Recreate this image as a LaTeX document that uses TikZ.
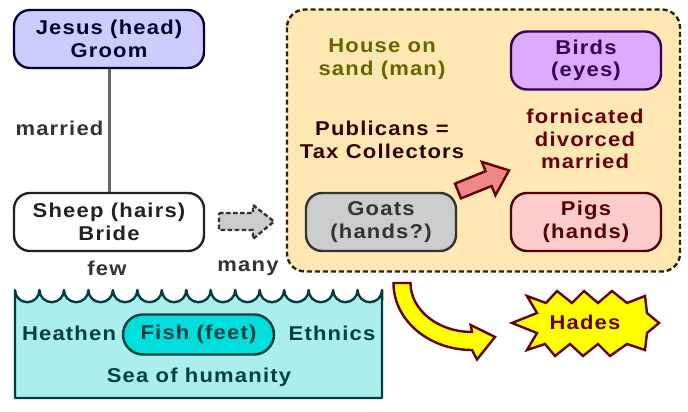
\documentclass[tikz,border=0pt]{standalone}
\usepackage{fontspec}
\setmainfont{Liberation Sans}[LetterSpace=6,FakeStretch=1.1]
\definecolor{navy}{HTML}{000033}
\definecolor{jfill}{HTML}{CCCCFF}
\definecolor{dk}{HTML}{222222}
\definecolor{dk3}{HTML}{333333}
\definecolor{linegray}{HTML}{666666}
\definecolor{peach}{HTML}{FFE8B3}
\definecolor{brownb}{HTML}{332200}
\definecolor{olive}{HTML}{666600}
\definecolor{pub}{HTML}{330000}
\definecolor{dred}{HTML}{660000}
\definecolor{birdf}{HTML}{DDAAFF}
\definecolor{birdb}{HTML}{330055}
\definecolor{goatf}{HTML}{CCCCCC}
\definecolor{pigf}{HTML}{FFCCCC}
\definecolor{pigb}{HTML}{550000}
\definecolor{redarrow}{HTML}{EE8888}
\definecolor{seaf}{HTML}{AAEEEE}
\definecolor{seab}{HTML}{003F3F}
\definecolor{fishf}{HTML}{00DDDD}
\definecolor{yell}{HTML}{FFFF00}
\begin{document}
\begin{tikzpicture}[x=1pt,y=-1pt,
  txt/.style={font=\fontsize{20}{22.5}\selectfont\bfseries, align=center, inner sep=0pt},
  rbox/.style={txt, draw, line width=2.4pt, rounded corners=16pt, minimum height=58pt},
  blockarrow/.style={line width=2.4pt, line join=miter}]
\path[use as bounding box, fill=white] (0,0) rectangle (688,412);

% big dashed region
\draw[fill=peach, draw=brownb, line width=2.4pt, dash pattern=on 5pt off 3pt, rounded corners=18pt]
  (287,9.5) rectangle (680,271.5);

% left column
\node[rbox, minimum width=190pt, fill=jfill, draw=navy, text=navy] (jesus) at (109,39) {Jesus (head)\\Groom};
\node[rbox, minimum width=190pt, fill=white, draw=dk, text=dk] (sheep) at (109,222) {Sheep (hairs)\\Bride};
\draw[linegray, line width=3pt] (jesus) -- (sheep);
\node[txt, text=dk3] (married) at (59.5,128) {married};
\node[txt, text=dk3] (few) at (107,268) {few};
\node[txt, text=dk3] (many) at (248,268) {many};

% gray dashed block arrow
\draw[blockarrow, fill=goatf, draw=dk3, dash pattern=on 4.5pt off 2.5pt]
  (219,213) -- (253,213) -- (253,205) -- (274,221.5) -- (253,239) -- (253,230) -- (219,230) -- cycle;

% inside region
\node[txt, text=olive] (house) at (382,59) {House on\\sand (man)};
\node[txt, text=pub] (publicans) at (382,140) {Publicans =\\Tax Collectors};
\node[txt, text=dred] (forn) at (585,139) {fornicated\\divorced\\married};
\node[rbox, minimum width=150pt, fill=birdf, draw=birdb, text=birdb] (birds) at (586,60.5) {Birds\\(eyes)};
\node[rbox, minimum width=150pt, fill=goatf, draw=dk3, text=dk3] (goats) at (381,222) {Goats\\(hands?)};
\node[rbox, minimum width=150pt, fill=pigf, draw=pigb, text=pigb] (pigs) at (586,222) {Pigs\\(hands)};

% red block arrow
\draw[blockarrow, fill=redarrow, draw=dred]
  (455,183.6) -- (485.6,171.2) -- (481.9,161.9) -- (509,170.4) -- (495.4,195.3) -- (491.6,186) -- (461,198.4) -- cycle;

% sea
\draw[fill=seaf, draw=seab, line width=2.4pt, line join=round]
  (15,290) \foreach \i in {0,...,14}{
    .. controls ({15+\i*24.47},296.76) and ({15+\i*24.47+5.475},302.2) .. ({15+\i*24.47+12.235},302.2)
    .. controls ({15+\i*24.47+18.995},302.2) and ({15+(\i+1)*24.47},296.76) .. ({15+(\i+1)*24.47},290) }
  -- (382,398) -- (15,398) -- cycle;
\node[txt, fill=fishf, draw=seab, line width=2.4pt, rounded corners=20pt, minimum width=151pt, minimum height=40pt, text=seab] (fish) at (198.5,334.5) {Fish (feet)};
\node[txt, text=seab] (heathen) at (69,333) {Heathen};
\node[txt, text=seab] (ethnics) at (332,333) {Ethnics};
\node[txt, text=seab] (seah) at (199,377) {Sea of humanity};

% yellow curved arrow
\draw[fill=yell, draw=dred, line width=2.4pt, line join=miter]
  (393.5,283) .. controls (393.5,320) and (428.6,350) .. (472,350)
  -- (477,359.5) -- (495,337) -- (470.7,325) -- (472,332)
  .. controls (438,332) and (410.5,310) .. (410.5,283) -- cycle;

% Hades starburst
\draw[fill=yell, draw=dred, line width=2.4pt, line join=miter]
  (512,323) -- (537,313) -- (527,296) -- (546,303) -- (557,291) -- (572,303) -- (584,291) -- (598,303)
  -- (612,291) -- (627,303) -- (645,296) -- (647,313) -- (659,323) -- (647,333) -- (645,350)
  -- (627,344) -- (610,356) -- (598,344) -- (583,356) -- (570,344) -- (555,356) -- (545,344)
  -- (527,350) -- (537,333) -- cycle;
\node[txt, text=dred] (hades) at (585,322) {Hades};
\end{tikzpicture}
\end{document}
